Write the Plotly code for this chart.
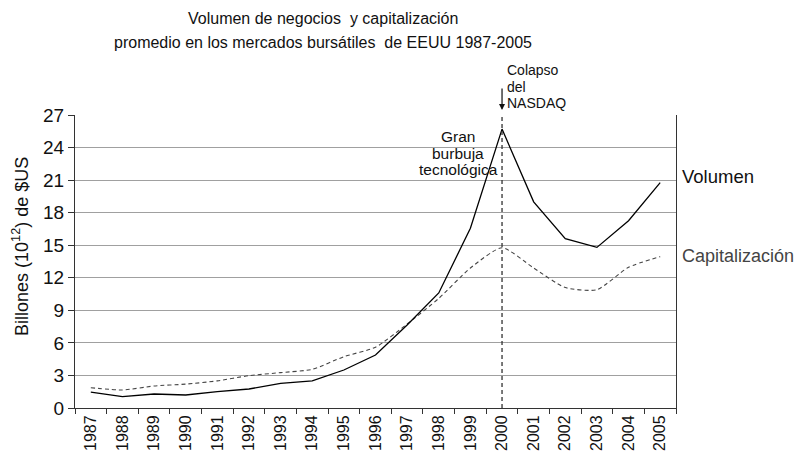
import plotly.graph_objects as go

years = [str(y) for y in range(1987, 2006)]
volumen = [1.47, 1.04, 1.29, 1.2, 1.5, 1.75, 2.27, 2.49, 3.5, 4.88, 7.65, 10.6, 16.56, 25.7, 19.0, 15.6, 14.8, 17.26, 20.77]
capitalizacion = [1.87, 1.66, 2.03, 2.2, 2.5, 2.98, 3.26, 3.56, 4.73, 5.6, 7.74, 10.1, 12.9, 14.77, 12.9, 11.1, 10.9, 12.97, 13.95]
y_ticks = [0, 3, 6, 9, 12, 15, 18, 21, 24, 27]
crash_year = "2000"

FONT = "Liberation Sans, Arial, sans-serif"
crash_idx = years.index(crash_year)

fig = go.Figure()
fig.add_trace(go.Scatter(x=years, y=capitalizacion, mode="lines", name="Capitalización",
                         line=dict(color="#444444", width=1.1, dash="4px,3px", shape="spline", smoothing=0.6)))
fig.add_trace(go.Scatter(x=years, y=volumen, mode="lines", name="Volumen",
                         line=dict(color="#000000", width=1.3)))

fig.add_shape(type="line", xref="x", yref="y", x0=crash_idx, x1=crash_idx, y0=0, y1=27.3,
              line=dict(color="#333333", width=1.3, dash="4px,3px"))

ann = []
def txt(t, x, y, size, xanchor="left", color="#111111", angle=0):
    ann.append(dict(text=t, x=x, y=y, xref="paper", yref="paper", showarrow=False, textangle=angle,
                    xanchor=xanchor, yanchor="middle", font=dict(family=FONT, size=size, color=color)))

txt("Volumen de negocios  y capitalización", 0.4126, 1.331, 16, "center")
txt("promedio en los mercados bursátiles  de EEUU 1987-2005", 0.4126, 1.249, 16, "center")
txt("Colapso", 0.716, 1.1536, 14)
txt("del", 0.716, 1.0966, 14)
txt("NASDAQ", 0.716, 1.041, 14)
txt("Gran", 0.6373, 0.926, 15.5, "center")
txt("burbuja", 0.6373, 0.8693, 15.5, "center")
txt("tecnológica", 0.6373, 0.8147, 15.5, "center")
txt("Volumen", 1.006, 0.7918, 18.5)
txt("Capitalización", 1.006, 0.5188, 18, color="#444444")
txt("Billones (10<sup>12</sup>) de $US", -0.0899, 0.553, 18, "center", angle=-90)

ann.append(dict(text="", x=crash_idx, y=1.017, xref="x", yref="paper", showarrow=True,
                ax=0, ay=-23, arrowhead=2, arrowsize=1, arrowwidth=1.2, arrowcolor="#111111"))

fig.update_layout(
    width=796, height=451,
    margin=dict(l=67, r=128, t=107, b=51),
    paper_bgcolor="white", plot_bgcolor="white",
    showlegend=False,
    font=dict(family=FONT, color="#111111"),
    annotations=ann,
    xaxis=dict(type="category", range=[-0.5, 18.5], tickangle=-90, ticks="outside", tickson="boundaries",
               ticklen=5, tickcolor="#333333", showgrid=False, showline=True, linecolor="#333333",
               linewidth=1, automargin=False, tickfont=dict(family=FONT, size=16, color="#111111")),
    yaxis=dict(range=[0, 27], tickvals=y_ticks, ticks="outside", ticklen=6, tickcolor="#333333",
               showgrid=True, gridcolor="#a0a0a0", gridwidth=1, showline=True, mirror=True,
               linecolor="#333333", linewidth=1, zeroline=False, automargin=False,
               tickfont=dict(family=FONT, size=19, color="#111111")),
)

fig.write_html("out.html")
